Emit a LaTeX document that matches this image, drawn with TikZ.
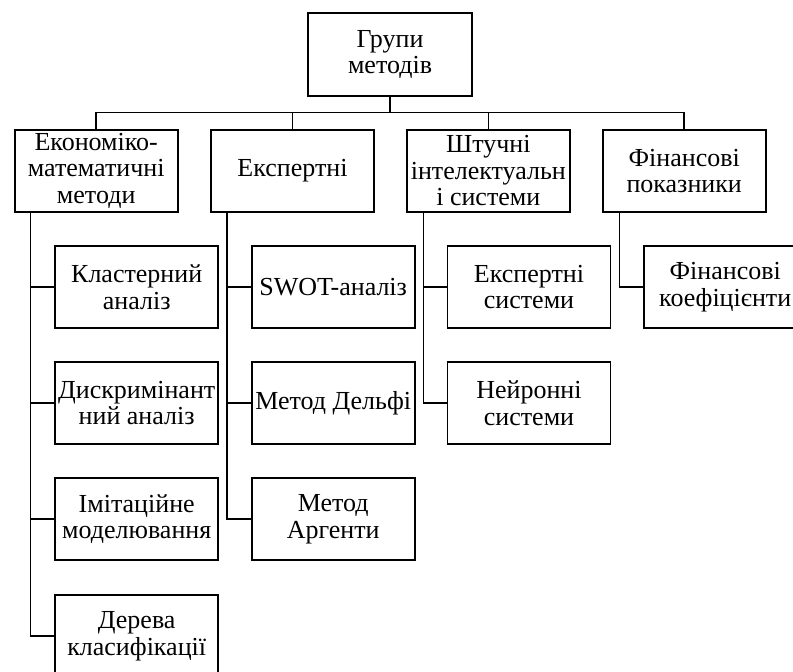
\documentclass[tikz,border=0pt]{standalone}
\usepackage{fontspec}
\setmainfont{Liberation Serif}
\begin{document}
\begin{tikzpicture}[x=1pt,y=-1pt,
  box/.style={draw=black, line width=1.7pt, fill=white, inner sep=0pt, align=center,
    minimum width=163pt, minimum height=82pt, font=\fontsize{26}{26.5}\selectfont},
  conn/.style={draw=black, line width=1.5pt}]
\useasboundingbox (0,0) rectangle (793,672);
% top
\node[box, minimum width=164pt, minimum height=82.5pt] (top) at (390,54.5) {Групи\\методів};
% level 1
\node[box] (e) at (96.2,170.8) {Економіко-\\математичні\\методи};
\node[box] (x) at (292.5,170.8) {Експертні};
\node[box] (s) at (488.3,170.8) {Штучні\\інтелектуальн\\і системи};
\node[box] (f) at (684.2,170.8) {Фінансові\\показники};
% column 1
\node[box] (c11) at (136.7,287) {Кластерний\\аналіз};
\node[box] (c12) at (136.7,403) {Дискримінант\\ний аналіз};
\node[box] (c13) at (136.7,519.2) {Імітаційне\\моделювання};
\node[box] (c14) at (136.7,636) {Дерева\\класифікації};
% column 2
\node[box] (c21) at (333.2,287) {SWOT-аналіз};
\node[box] (c22) at (333.2,403) {Метод Дельфі};
\node[box] (c23) at (333.2,519.2) {Метод\\Аргенти};
% column 3
\node[box] (c31) at (529,287) {Експертні\\системи};
\node[box] (c32) at (529,403) {Нейронні\\системи};
% column 4
\node[box] (c41) at (725.2,287) {Фінансові\\коефіцієнти};
% bus
\coordinate (bus) at (390,112.3);
\draw[conn] (top.south) -- (bus);
\draw[conn] (e.north) |- (bus) -| (f.north);
\draw[conn] (x.north) -- (x.north |- bus);
\draw[conn] (s.north) -- (s.north |- bus);
% trunks
\coordinate (t1) at ([xshift=16.6pt]e.south west);
\coordinate (t2) at ([xshift=16.6pt]x.south west);
\coordinate (t3) at ([xshift=17.6pt]s.south west);
\coordinate (t4) at ([xshift=17.6pt]f.south west);
\draw[conn] (t1) |- (c14.west);
\draw[conn] (t1 |- c11.west) -- (c11.west);
\draw[conn] (t1 |- c12.west) -- (c12.west);
\draw[conn] (t1 |- c13.west) -- (c13.west);
\draw[conn] (t2) |- (c23.west);
\draw[conn] (t2 |- c21.west) -- (c21.west);
\draw[conn] (t2 |- c22.west) -- (c22.west);
\draw[conn] (t3) |- (c32.west);
\draw[conn] (t3 |- c31.west) -- (c31.west);
\draw[conn] (t4) |- (c41.west);
\end{tikzpicture}
\end{document}
